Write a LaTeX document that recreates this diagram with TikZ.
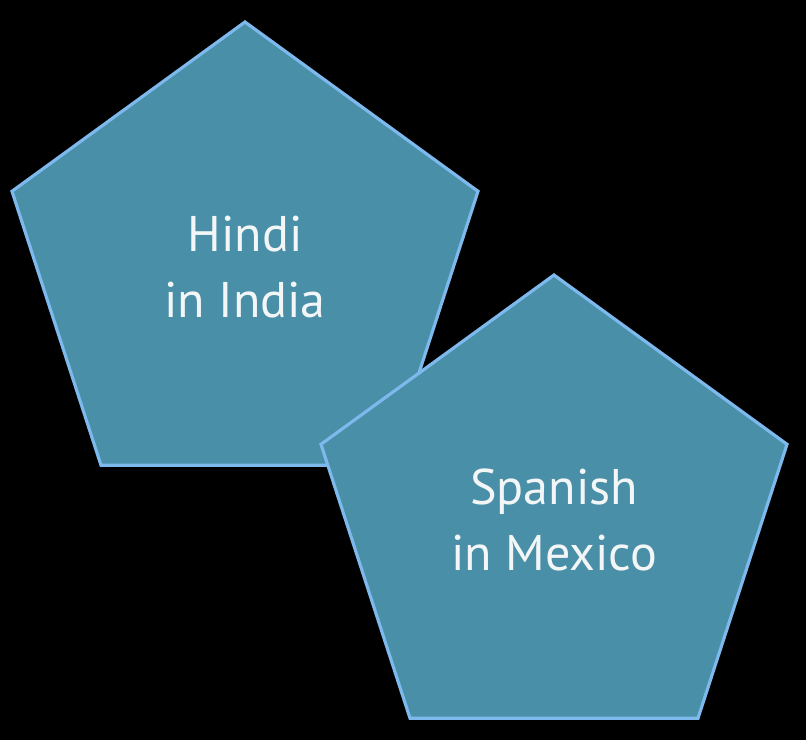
\documentclass[tikz,border=0pt]{standalone}
\usepackage{fontspec}
\setmainfont{PT Sans}
\usetikzlibrary{shapes.geometric}
\definecolor{pentfill}{HTML}{4A8FA8}
\definecolor{pentline}{HTML}{7DB9EC}
\definecolor{pentfont}{HTML}{F2F6F6}
\begin{document}
\begin{tikzpicture}[
  pentbox/.style={regular polygon,regular polygon sides=5,minimum size=9.8cm,
    inner sep=0pt,outer sep=0pt,fill=pentfill,draw=pentline,line width=1.8pt,
    text=pentfont,align=center,font=\fontsize{28.5}{38}\selectfont}]
\fill[black] (0,0) rectangle (16.12,14.8);
\useasboundingbox (0,0) rectangle (16.12,14.8);
\node[pentbox] (hindi) at (4.9,9.46) {Hindi\\in India};
\node[pentbox] (spanish) at (11.08,4.4) {Spanish\\in Mexico};
\end{tikzpicture}
\end{document}
